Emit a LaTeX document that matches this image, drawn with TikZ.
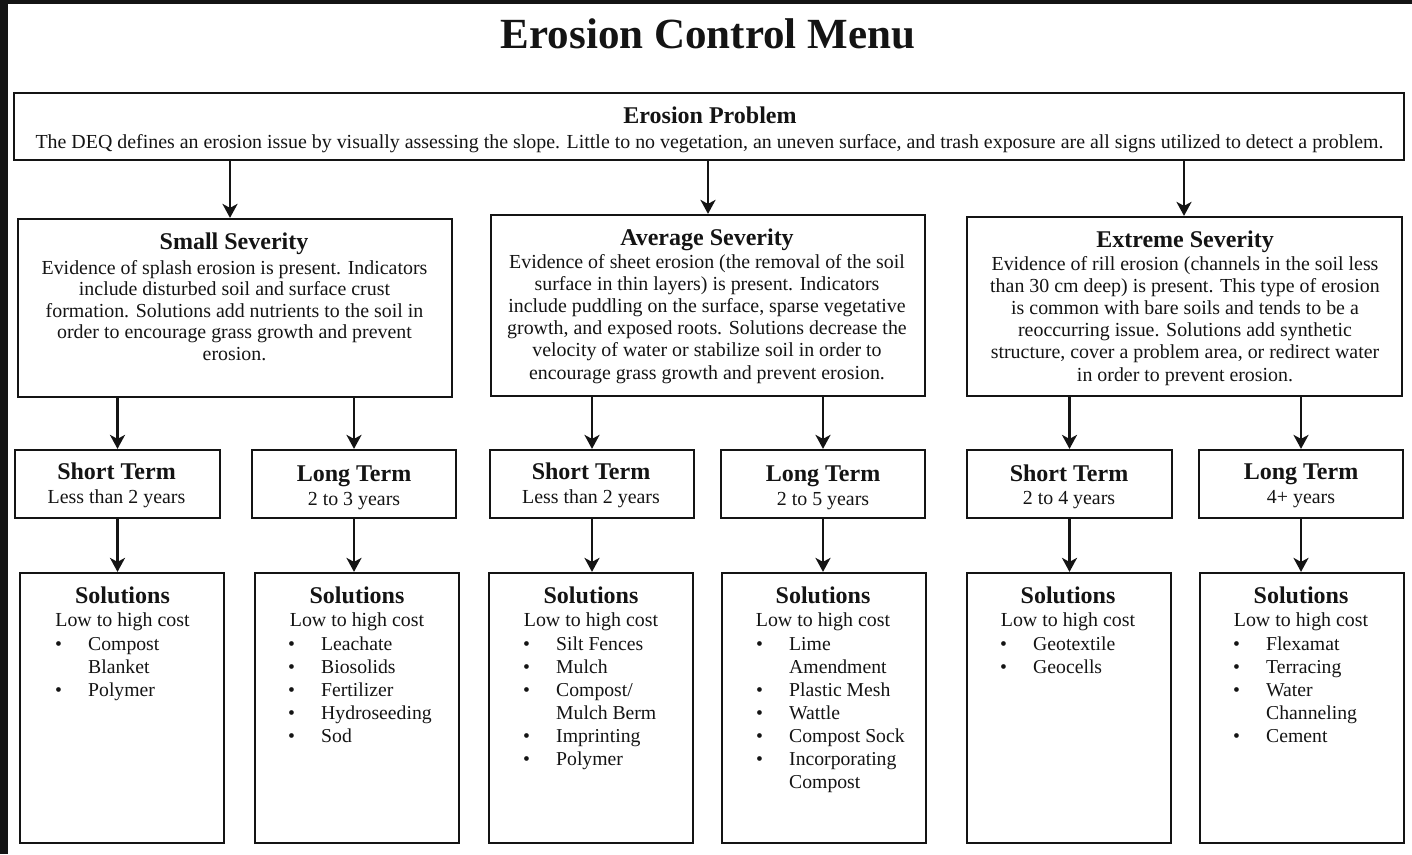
\documentclass[tikz,border=0pt]{standalone}
\usepackage{fontspec}
\setmainfont{Liberation Serif}
\usetikzlibrary{arrows.meta}
\newcommand\bodyf{\fontsize{19.9}{22.2}\selectfont}
\newcommand\smallbodyf{\fontsize{19.9}{21.5}\selectfont}
\newcommand\listf{\fontsize{19.7}{23}\selectfont}
\newcommand\headf{\fontsize{24}{28}\selectfont\bfseries}
\newcommand\bl[1]{\begin{tabular}[t]{@{}p{33pt}@{}l@{}}#1\end{tabular}}
\definecolor{ink}{HTML}{141414}
\begin{document}
\begin{tikzpicture}[x=1pt,y=-1pt,
  box/.style={draw=ink, line width=2.2pt, inner sep=0pt, fill=white},
  arr/.style={draw=ink, line width=2.6pt, -{Stealth[length=14pt,width=15pt,inset=4pt]}},
  hd/.style={font=\headf, anchor=base, inner sep=0pt, text=ink, yshift=-2pt},
  bd/.style={font=\bodyf, anchor=base, inner sep=0pt, align=center, text=ink, yshift=-2pt},
  lst/.style={font=\listf, anchor=base west, inner sep=0pt, text=ink, yshift=-2pt}]
\useasboundingbox (0,0) rectangle (1412,854);
\fill[white] (0,0) rectangle (1412,854);
\fill[ink] (0,0) rectangle (8,854);
\fill[ink] (0,0) rectangle (1412,4);

% title
\node[font=\fontsize{43}{50}\selectfont\bfseries, anchor=base, inner sep=0pt, text=ink] (title) at (708,48) {Erosion Control Menu};

% problem
\node[box, minimum width=1390pt, minimum height=67pt] (prob) at (709,126.5) {};
\node[hd] (probh) at (710,121) {Erosion Problem};
\node[bd] (probt) at (709.5,146) {The DEQ defines an erosion issue by visually assessing the slope. Little to no vegetation, an uneven surface, and trash exposure are all signs utilized to detect a problem.};

% severity boxes
\node[box, minimum width=434pt, minimum height=178pt] (sev1) at (235,308) {};
\node[box, minimum width=434pt, minimum height=181pt] (sev2) at (708,305.5) {};
\node[box, minimum width=435pt, minimum height=179pt] (sev3) at (1184.5,306.5) {};

% (base anchor of a multi-line node = baseline of its last line)
\node[hd] (sev1h) at (234,247) {Small Severity};
\node[bd, font=\smallbodyf] (sev1t) at (234.5,358) {Evidence of splash erosion is present. Indicators\\include disturbed soil and surface crust\\formation. Solutions add nutrients to the soil in\\order to encourage grass growth and prevent\\erosion.};
\node[hd] (sev2h) at (707,243) {Average Severity};
\node[bd] (sev2t) at (707,377) {Evidence of sheet erosion (the removal of the soil\\surface in thin layers) is present. Indicators\\include puddling on the surface, sparse vegetative\\growth, and exposed roots. Solutions decrease the\\velocity of water or stabilize soil in order to\\encourage grass growth and prevent erosion.};
\node[hd] (sev3h) at (1185,245) {Extreme Severity};
\node[bd] (sev3t) at (1185,379) {Evidence of rill erosion (channels in the soil less\\than 30 cm deep) is present. This type of erosion\\is common with bare soils and tends to be a\\reoccurring issue. Solutions add synthetic\\structure, cover a problem area, or redirect water\\in order to prevent erosion.};

% term boxes
\node[box, minimum width=205pt, minimum height=68pt] (st1) at (117.5,484) {};
\node[box, minimum width=204pt, minimum height=68pt] (lt1) at (354,484) {};
\node[box, minimum width=204pt, minimum height=68pt] (st2) at (592,484) {};
\node[box, minimum width=204pt, minimum height=68pt] (lt2) at (823,484) {};
\node[box, minimum width=205pt, minimum height=68pt] (st3) at (1069.5,484) {};
\node[box, minimum width=204pt, minimum height=68pt] (lt3) at (1301,484) {};

\node[hd] (st1h) at (116.5,477) {Short Term};
\node[bd] (st1t) at (116.5,501) {Less than 2 years};
\node[hd] (lt1h) at (354,479) {Long Term};
\node[bd] (lt1t) at (354,503) {2 to 3 years};
\node[hd] (st2h) at (591,477) {Short Term};
\node[bd] (st2t) at (591,501) {Less than 2 years};
\node[hd] (lt2h) at (823,479) {Long Term};
\node[bd] (lt2t) at (823,503) {2 to 5 years};
\node[hd] (st3h) at (1069,479) {Short Term};
\node[bd] (st3t) at (1069,502) {2 to 4 years};
\node[hd] (lt3h) at (1301,477) {Long Term};
\node[bd] (lt3t) at (1301,501) {4+ years};

% solution boxes
\node[box, minimum width=204pt, minimum height=270pt] (sol1) at (122,708) {};
\node[box, minimum width=204pt, minimum height=270pt] (sol2) at (357,708) {};
\node[box, minimum width=204pt, minimum height=270pt] (sol3) at (591,708) {};
\node[box, minimum width=204pt, minimum height=270pt] (sol4) at (824,708) {};
\node[box, minimum width=204pt, minimum height=270pt] (sol5) at (1069,708) {};
\node[box, minimum width=204pt, minimum height=270pt] (sol6) at (1302,708) {};

\foreach \n/\x in {1/122.5,2/357,3/591,4/823,5/1068,6/1301}{
  \node[hd] (sol\n h) at (\x,601) {Solutions};
  \node[bd] (sol\n c) at (\x,624) {Low to high cost};
}
\node[lst] (sol1l) at (55,648) {\bl{\textbullet & Compost\\ & Blanket\\ \textbullet & Polymer}};
\node[lst] (sol2l) at (288,648) {\bl{\textbullet & Leachate\\ \textbullet & Biosolids\\ \textbullet & Fertilizer\\ \textbullet & Hydroseeding\\ \textbullet & Sod}};
\node[lst] (sol3l) at (523,648) {\bl{\textbullet & Silt Fences\\ \textbullet & Mulch\\ \textbullet & Compost/\\ & Mulch Berm\\ \textbullet & Imprinting\\ \textbullet & Polymer}};
\node[lst] (sol4l) at (756,648) {\bl{\textbullet & Lime\\ & Amendment\\ \textbullet & Plastic Mesh\\ \textbullet & Wattle\\ \textbullet & Compost Sock\\ \textbullet & Incorporating\\ & Compost}};
\node[lst] (sol5l) at (1000,648) {\bl{\textbullet & Geotextile\\ \textbullet & Geocells}};
\node[lst] (sol6l) at (1233,648) {\bl{\textbullet & Flexamat\\ \textbullet & Terracing\\ \textbullet & Water\\ & Channeling\\ \textbullet & Cement}};

% connectors
\draw[arr] (prob.south -| 230,0) -- (sev1.north -| 230,0);
\draw[arr] (prob.south -| 708,0) -- (sev2.north -| 708,0);
\draw[arr] (prob.south -| 1184,0) -- (sev3.north -| 1184,0);
\draw[arr] (sev1.south -| st1.north) -- (st1.north);
\draw[arr] (sev1.south -| lt1.north) -- (lt1.north);
\draw[arr] (sev2.south -| st2.north) -- (st2.north);
\draw[arr] (sev2.south -| lt2.north) -- (lt2.north);
\draw[arr] (sev3.south -| st3.north) -- (st3.north);
\draw[arr] (sev3.south -| lt3.north) -- (lt3.north);
\draw[arr] (st1.south) -- (st1.south |- sol1.north);
\draw[arr] (lt1.south) -- (lt1.south |- sol2.north);
\draw[arr] (st2.south) -- (st2.south |- sol3.north);
\draw[arr] (lt2.south) -- (lt2.south |- sol4.north);
\draw[arr] (st3.south) -- (st3.south |- sol5.north);
\draw[arr] (lt3.south) -- (lt3.south |- sol6.north);
\end{tikzpicture}
\end{document}
